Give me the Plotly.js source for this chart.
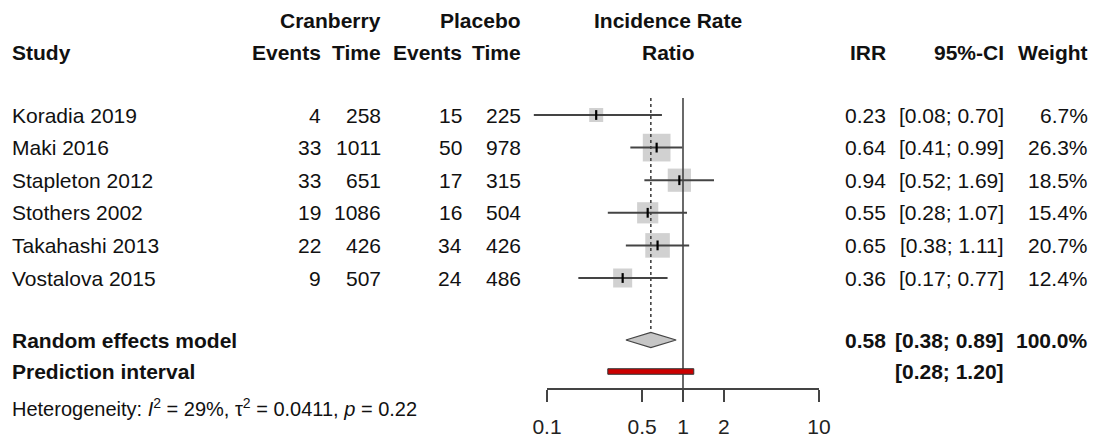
<!DOCTYPE html>
<html>
<head>
<meta charset="utf-8">
<script src="https://cdn.plot.ly/plotly-3.0.1.min.js"></script>
<style>html,body{margin:0;padding:0;background:#fff;}#chart{width:1094px;height:437px;}</style>
</head>
<body>
<div id="chart"></div>
<script>
// ---- data ----
const studies = ["Koradia 2019","Maki 2016","Stapleton 2012","Stothers 2002","Takahashi 2013","Vostalova 2015"];
const cranEvents = [4, 33, 33, 19, 22, 9];
const cranTime = [258, 1011, 651, 1086, 426, 507];
const placEvents = [15, 50, 17, 16, 34, 24];
const placTime = [225, 978, 315, 504, 426, 486];
const irr = [0.23, 0.64, 0.94, 0.55, 0.65, 0.36];
const ciLow = [0.08, 0.41, 0.52, 0.28, 0.38, 0.17];
const ciHigh = [0.70, 0.99, 1.69, 1.07, 1.11, 0.77];
const weight = [6.7, 26.3, 18.5, 15.4, 20.7, 12.4];
const reModel = {est: 0.58, lo: 0.38, hi: 0.89, weight: 100.0};
const predInt = {lo: 0.28, hi: 1.20};
const tickVals = [0.1, 0.5, 1, 2, 10];
const tickText = ["0.1", "0.5", "1", "2", "10"];
const hetText = "Heterogeneity: <i>I</i><sup>2</sup> = 29%, τ<sup>2</sup> = 0.0411, <i>p</i> = 0.22";

// ---- layout geometry ----
const G = {plotL: 500, plotR: 860, axL: 547, axR: 819, top: 90, bottom: 388, row0: 115, step: 32.6, W: 1094, H: 437};
const pxPerDecade = (G.axR - G.axL) / (Math.log10(tickVals[tickVals.length - 1]) - Math.log10(tickVals[0]));
const rangeLo = Math.log10(tickVals[0]) - (G.axL - G.plotL) / pxPerDecade;
const rangeHi = Math.log10(tickVals[tickVals.length - 1]) + (G.plotR - G.axR) / pxPerDecade;
const rowPx = r => G.row0 + G.step * r;
const pxToRow = p => (p - G.row0) / G.step;
const paperX = px => (px - G.plotL) / (G.plotR - G.plotL);
const paperY = py => (G.bottom - py) / (G.bottom - G.top);

const rows = studies.map((s, i) => i);
const rowRE = pxToRow(340);
const rowPI = pxToRow(371.5);
const yTop = pxToRow(98);
const yBottom = pxToRow(G.bottom);

const FONT = "'Liberation Sans', Arial, Helvetica, sans-serif";
const FS = 21;
const TXT = "#111";

const traces = [];
// axis carrier (empty) for the tick axis, drawn first
traces.push({type: "scatter", mode: "markers", x: [], y: [], xaxis: "x2", yaxis: "y", hoverinfo: "skip", showlegend: false});
// squares
traces.push({
  type: "scatter", mode: "markers", x: irr, y: rows,
  marker: {symbol: "square", size: weight.map(w => 5.4 * Math.sqrt(w)), color: "#bdbdbd", line: {width: 0}},
  hoverinfo: "skip", showlegend: false
});
// CI lines
const cx = [], cy = [];
rows.forEach((r, i) => { cx.push(ciLow[i], ciHigh[i], null); cy.push(r, r, null); });
traces.push({type: "scatter", mode: "lines", x: cx, y: cy, line: {color: "#444", width: 2}, hoverinfo: "skip", showlegend: false});
// point ticks
traces.push({
  type: "scatter", mode: "markers", x: irr, y: rows,
  marker: {symbol: "line-ns-open", size: 7, color: "#000", line: {width: 2.2, color: "#000"}},
  hoverinfo: "skip", showlegend: false
});
// reference line at 1
traces.push({type: "scatter", mode: "lines", x: [1, 1], y: [yTop, yBottom], line: {color: "#444", width: 1.6}, hoverinfo: "skip", showlegend: false});
// dotted line at pooled estimate
const dh = 0.23;
traces.push({type: "scatter", mode: "lines", x: [reModel.est, reModel.est], y: [yTop, rowRE - dh], line: {color: "#444", width: 1.6, dash: "dot"}, hoverinfo: "skip", showlegend: false});
// diamond
traces.push({
  type: "scatter", mode: "lines", fill: "toself", fillcolor: "#c6c6c6",
  x: [reModel.lo, reModel.est, reModel.hi, reModel.est, reModel.lo],
  y: [rowRE, rowRE - dh, rowRE, rowRE + dh, rowRE],
  line: {color: "#444", width: 1.3}, hoverinfo: "skip", showlegend: false
});
// prediction interval
const ph = 0.085;
traces.push({
  type: "scatter", mode: "lines", fill: "toself", fillcolor: "#cc0000",
  x: [predInt.lo, predInt.hi, predInt.hi, predInt.lo, predInt.lo],
  y: [rowPI - ph, rowPI - ph, rowPI + ph, rowPI + ph, rowPI - ph],
  line: {color: "#333", width: 1}, hoverinfo: "skip", showlegend: false
});

// ---- text ----
const ann = [];
function addText(text, px, py, anchor, bold, size) {
  ann.push({
    text: bold ? "<b>" + text + "</b>" : text,
    xref: "paper", yref: "paper", x: paperX(px), y: paperY(py),
    xanchor: anchor, yanchor: "middle", showarrow: false,
    borderpad: 0, borderwidth: 0,
    font: {family: FONT, size: size || FS, color: TXT}
  });
}
// headers
const h1 = 20, h2 = 53;
addText("Cranberry", 381, h1, "right", true);
addText("Placebo", 521, h1, "right", true);
addText("Incidence Rate", 668, h1, "center", true);
addText("Study", 12, h2, "left", true);
addText("Events", 321, h2, "right", true);
addText("Time", 381, h2, "right", true);
addText("Events", 462, h2, "right", true);
addText("Time", 521, h2, "right", true);
addText("Ratio", 668, h2, "center", true);
addText("IRR", 886, h2, "right", true);
addText("95%-CI", 1004, h2, "right", true);
addText("Weight", 1088, h2, "right", true);
// study rows
studies.forEach((s, i) => {
  const py = rowPx(rows[i]);
  addText(s, 12, py, "left", false);
  addText(String(cranEvents[i]), 321, py, "right", false);
  addText(String(cranTime[i]), 381, py, "right", false);
  addText(String(placEvents[i]), 462, py, "right", false);
  addText(String(placTime[i]), 521, py, "right", false);
  addText(irr[i].toFixed(2), 886, py, "right", false);
  addText("[" + ciLow[i].toFixed(2) + "; " + ciHigh[i].toFixed(2) + "]", 1004, py, "right", false);
  addText(weight[i].toFixed(1) + "%", 1088, py, "right", false);
});
// summary rows
const pyRE = rowPx(rowRE), pyPI = rowPx(rowPI);
addText("Random effects model", 12, pyRE, "left", true);
addText(reModel.est.toFixed(2), 886, pyRE, "right", true);
addText("[" + reModel.lo.toFixed(2) + "; " + reModel.hi.toFixed(2) + "]", 1004, pyRE, "right", true);
addText(reModel.weight.toFixed(1) + "%", 1088, pyRE, "right", true);
addText("Prediction interval", 12, pyPI, "left", true);
addText("[" + predInt.lo.toFixed(2) + "; " + predInt.hi.toFixed(2) + "]", 1004, pyPI, "right", true);
addText(hetText, 12, 407, "left", false, 20);

const layout = {
  width: G.W, height: G.H,
  margin: {l: G.plotL, r: G.W - G.plotR, t: G.top, b: G.H - G.bottom, pad: 0},
  paper_bgcolor: "#fff", plot_bgcolor: "rgba(0,0,0,0)",
  showlegend: false,
  xaxis: {
    type: "log", range: [rangeLo, rangeHi], autorange: false, fixedrange: true,
    visible: false, showgrid: false, zeroline: false
  },
  xaxis2: {
    type: "log", anchor: "y", domain: [paperX(G.axL), paperX(G.axR)],
    range: [Math.log10(tickVals[0]), Math.log10(tickVals[tickVals.length - 1])],
    autorange: false, fixedrange: true,
    showgrid: false, zeroline: false,
    showline: true, linecolor: "#444", linewidth: 1.6,
    ticks: "outside", ticklen: 12, tickwidth: 1.6, tickcolor: "#444",
    tickmode: "array", tickvals: tickVals, ticktext: tickText,
    tickfont: {family: FONT, size: 21, color: "#222"},
    ticklabelstandoff: 7
  },
  yaxis: {
    range: [yBottom, pxToRow(G.top)], autorange: false, fixedrange: true,
    visible: false, showgrid: false, zeroline: false
  },
  annotations: ann
};

Plotly.newPlot("chart", traces, layout, {staticPlot: true, displayModeBar: false});
</script>
</body>
</html>
